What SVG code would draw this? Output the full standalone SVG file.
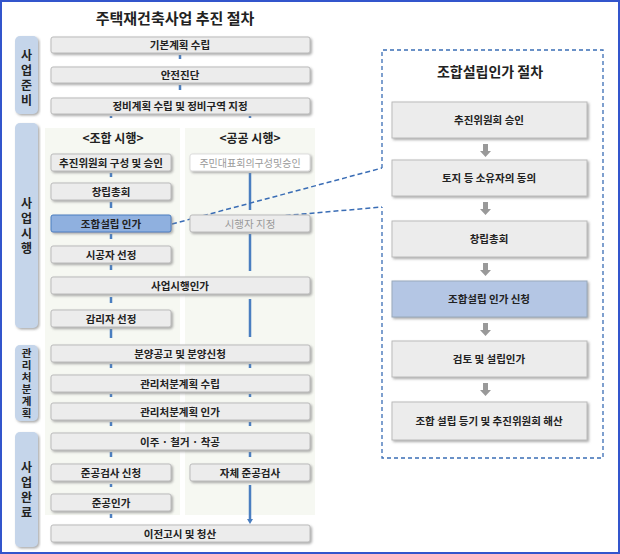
<svg xmlns="http://www.w3.org/2000/svg" width="620" height="554" viewBox="0 0 620 554">
<style>
text{font-family:"Noto Sans CJK KR","Noto Sans",sans-serif;text-anchor:middle;font-weight:bold;fill:#222}
.b{fill:#ececec;stroke:#bbb;stroke-width:1}
.s{font-size:10.5px}
.tab{fill:#c5d5ea}
.tt{font-size:12px;fill:#222}
.t2{font-size:10.5px;fill:#222}
.ar{stroke:#4a7ec0;stroke-width:2.5;fill:none}
.ga{fill:#999}
</style>
<defs>
<filter id="sh" x="-5%" y="-20%" width="115%" height="160%"><feDropShadow dx="1.5" dy="1.5" stdDeviation="0.8" flood-color="#888" flood-opacity="0.7"/></filter>
<marker id="m" markerUnits="userSpaceOnUse" markerWidth="7" markerHeight="6" refX="0" refY="3" orient="auto"><path d="M0,0L5,3L0,6z" fill="#4a7ec0"/></marker>
</defs>
<rect x="1" y="1" width="618" height="552" fill="#fff" stroke="#3355cc" stroke-width="2"/>
<text x="175" y="24" style="font-size:15px">주택재건축사업 추진 절차</text>
<rect x="45" y="128" width="135" height="387" fill="#f6f8f2"/>
<rect x="185" y="128" width="130" height="387" fill="#f6f8f2"/>
<g id="tabs">
<rect class="tab" x="15" y="36" width="23" height="78" rx="5" filter="url(#sh)"/>
<text class="tt" x="26.5" y="60">사</text><text class="tt" x="26.5" y="75">업</text><text class="tt" x="26.5" y="90">준</text><text class="tt" x="26.5" y="105">비</text>
<rect class="tab" x="15" y="123" width="23" height="205" rx="5" filter="url(#sh)"/>
<text class="tt" x="26.5" y="208">사</text><text class="tt" x="26.5" y="223">업</text><text class="tt" x="26.5" y="238">시</text><text class="tt" x="26.5" y="253">행</text>
<rect class="tab" x="15" y="345" width="23" height="76" rx="5" filter="url(#sh)"/>
<text class="t2" x="26.5" y="357">관</text><text class="t2" x="26.5" y="369">리</text><text class="t2" x="26.5" y="381">처</text><text class="t2" x="26.5" y="393">분</text><text class="t2" x="26.5" y="405">계</text><text class="t2" x="26.5" y="417">획</text>
<rect class="tab" x="15" y="432" width="23" height="115" rx="5" filter="url(#sh)"/>
<text class="tt" x="26.5" y="472">사</text><text class="tt" x="26.5" y="487">업</text><text class="tt" x="26.5" y="502">완</text><text class="tt" x="26.5" y="517">료</text>
</g>
<text x="113" y="143" style="font-size:12px">&lt;조합 시행&gt;</text>
<text x="250" y="143" style="font-size:12px">&lt;공공 시행&gt;</text>
<g id="connectors">
<path class="ar" d="M180,55v4M180,85v5M111,116v2M250,116v2M111,173v4M111,202v6M111,234v5M111,265v5M111,297v6M111,329v9M111,364v4M111,394v3M111,422v4M111,452v5M111,484v3M111,514v4M250,173v37M250,234v37M250,299v38M250,364v4M250,394v3M250,422v4M250,452v5M250,485v34" marker-end="url(#m)"/>
<path d="M172,224L382,168M190,224L382,207" stroke="#3a6db5" stroke-width="1.5" stroke-dasharray="5,3" fill="none"/>
<path class="ga" d="M483,144h5v7h3l-5.5,6l-5.5,-6h3z M483,202h5v7h3l-5.5,6l-5.5,-6h3z M483,263h5v7h3l-5.5,6l-5.5,-6h3z M483,323h5v7h3l-5.5,6l-5.5,-6h3z M483,383h5v7h3l-5.5,6l-5.5,-6h3z"/>
</g>
<g id="n1"><rect class="b" x="51" y="37" width="259" height="16" rx="2" filter="url(#sh)"/><text class="s" x="180" y="49">기본계획 수립</text></g>
<g id="n2"><rect class="b" x="51" y="67" width="259" height="16" rx="2" filter="url(#sh)"/><text class="s" x="180" y="79">안전진단</text></g>
<g id="n3"><rect class="b" x="51" y="98" width="259" height="16" rx="2" filter="url(#sh)"/><text class="s" x="180" y="110">정비계획 수립 및 정비구역 지정</text></g>
<g id="n4"><rect class="b" x="51" y="154" width="120" height="17" rx="2" filter="url(#sh)"/><text class="s" x="111" y="166.5">추진위원회 구성 및 승인</text></g>
<g id="n5"><rect class="b" x="51" y="183" width="120" height="17" rx="2" filter="url(#sh)"/><text class="s" x="111" y="195.5">창립총회</text></g>
<g id="n6"><rect x="51" y="215" width="120" height="17" rx="2" fill="#8fb0df" stroke="#4a7ec0" filter="url(#sh)"/><text class="s" x="111" y="227.5">조합설립 인가</text></g>
<g id="n7"><rect class="b" x="51" y="246" width="120" height="17" rx="2" filter="url(#sh)"/><text class="s" x="111" y="258.5">시공자 선정</text></g>
<g id="n8"><rect class="b" x="51" y="277" width="259" height="17" rx="2" filter="url(#sh)"/><text class="s" x="180" y="289.5">사업시행인가</text></g>
<g id="n9"><rect class="b" x="51" y="310" width="120" height="17" rx="2" filter="url(#sh)"/><text class="s" x="111" y="322.5">감리자 선정</text></g>
<g id="n10"><rect class="b" x="51" y="345" width="259" height="17" rx="2" filter="url(#sh)"/><text class="s" x="180" y="357.5">분양공고 및 분양신청</text></g>
<g id="n11"><rect class="b" x="51" y="375" width="259" height="17" rx="2" filter="url(#sh)"/><text class="s" x="180" y="387.5">관리처분계획 수립</text></g>
<g id="n12"><rect class="b" x="51" y="403" width="259" height="17" rx="2" filter="url(#sh)"/><text class="s" x="180" y="415.5">관리처분계획 인가</text></g>
<g id="n13"><rect class="b" x="51" y="433" width="259" height="17" rx="2" filter="url(#sh)"/><text class="s" x="180" y="445.5">이주 · 철거 · 착공</text></g>
<g id="n14"><rect class="b" x="51" y="464" width="120" height="17" rx="2" filter="url(#sh)"/><text class="s" x="111" y="476.5">준공검사 신청</text></g>
<g id="n15"><rect class="b" x="51" y="494" width="120" height="17" rx="2" filter="url(#sh)"/><text class="s" x="111" y="506.5">준공인가</text></g>
<g id="n16"><rect class="b" x="51" y="525" width="259" height="17" rx="2" filter="url(#sh)"/><text class="s" x="180" y="537.5">이전고시 및 청산</text></g>
<g id="n17"><rect x="190" y="154" width="120" height="17" rx="2" fill="#fff" stroke="#ddd" filter="url(#sh)"/><text class="s" x="250" y="166.5" style="fill:#999;font-weight:normal;font-size:10px">주민대표회의구성및승인</text></g>
<g id="n18"><rect class="b" x="190" y="215" width="120" height="17" rx="2" filter="url(#sh)"/><text class="s" x="250" y="227.5" style="fill:#999;font-weight:normal">시행자 지정</text></g>
<g id="n19"><rect class="b" x="190" y="464" width="120" height="17" rx="2" filter="url(#sh)"/><text class="s" x="250" y="476.5">자체 준공검사</text></g>
<g id="panel">
<path d="M382,168V50H603V458H382V207" fill="none" stroke="#3a6db5" stroke-width="1.3" stroke-dasharray="4,3"/>
<text x="490" y="77" style="font-size:14px">조합설립인가 절차</text>
</g>
<g id="p1"><rect class="b" x="392" y="102" width="195" height="36" filter="url(#sh)"/><text class="s" x="489" y="124">추진위원회 승인</text></g>
<g id="p2"><rect class="b" x="392" y="160" width="195" height="36" filter="url(#sh)"/><text class="s" x="489" y="182">토지 등 소유자의 동의</text></g>
<g id="p3"><rect class="b" x="392" y="221" width="195" height="36" filter="url(#sh)"/><text class="s" x="489" y="243">창립총회</text></g>
<g id="p4"><rect x="392" y="281" width="195" height="36" fill="#b4c6e4" stroke="#9ab" filter="url(#sh)"/><text class="s" x="489" y="303">조합설립 인가 신청</text></g>
<g id="p5"><rect class="b" x="392" y="341" width="195" height="36" filter="url(#sh)"/><text class="s" x="489" y="363">검토 및 설립인가</text></g>
<g id="p6"><rect class="b" x="392" y="402" width="195" height="38" filter="url(#sh)"/><text class="s" x="489" y="425">조합 설립 등기 및 추진위원회 해산</text></g>
</svg>
